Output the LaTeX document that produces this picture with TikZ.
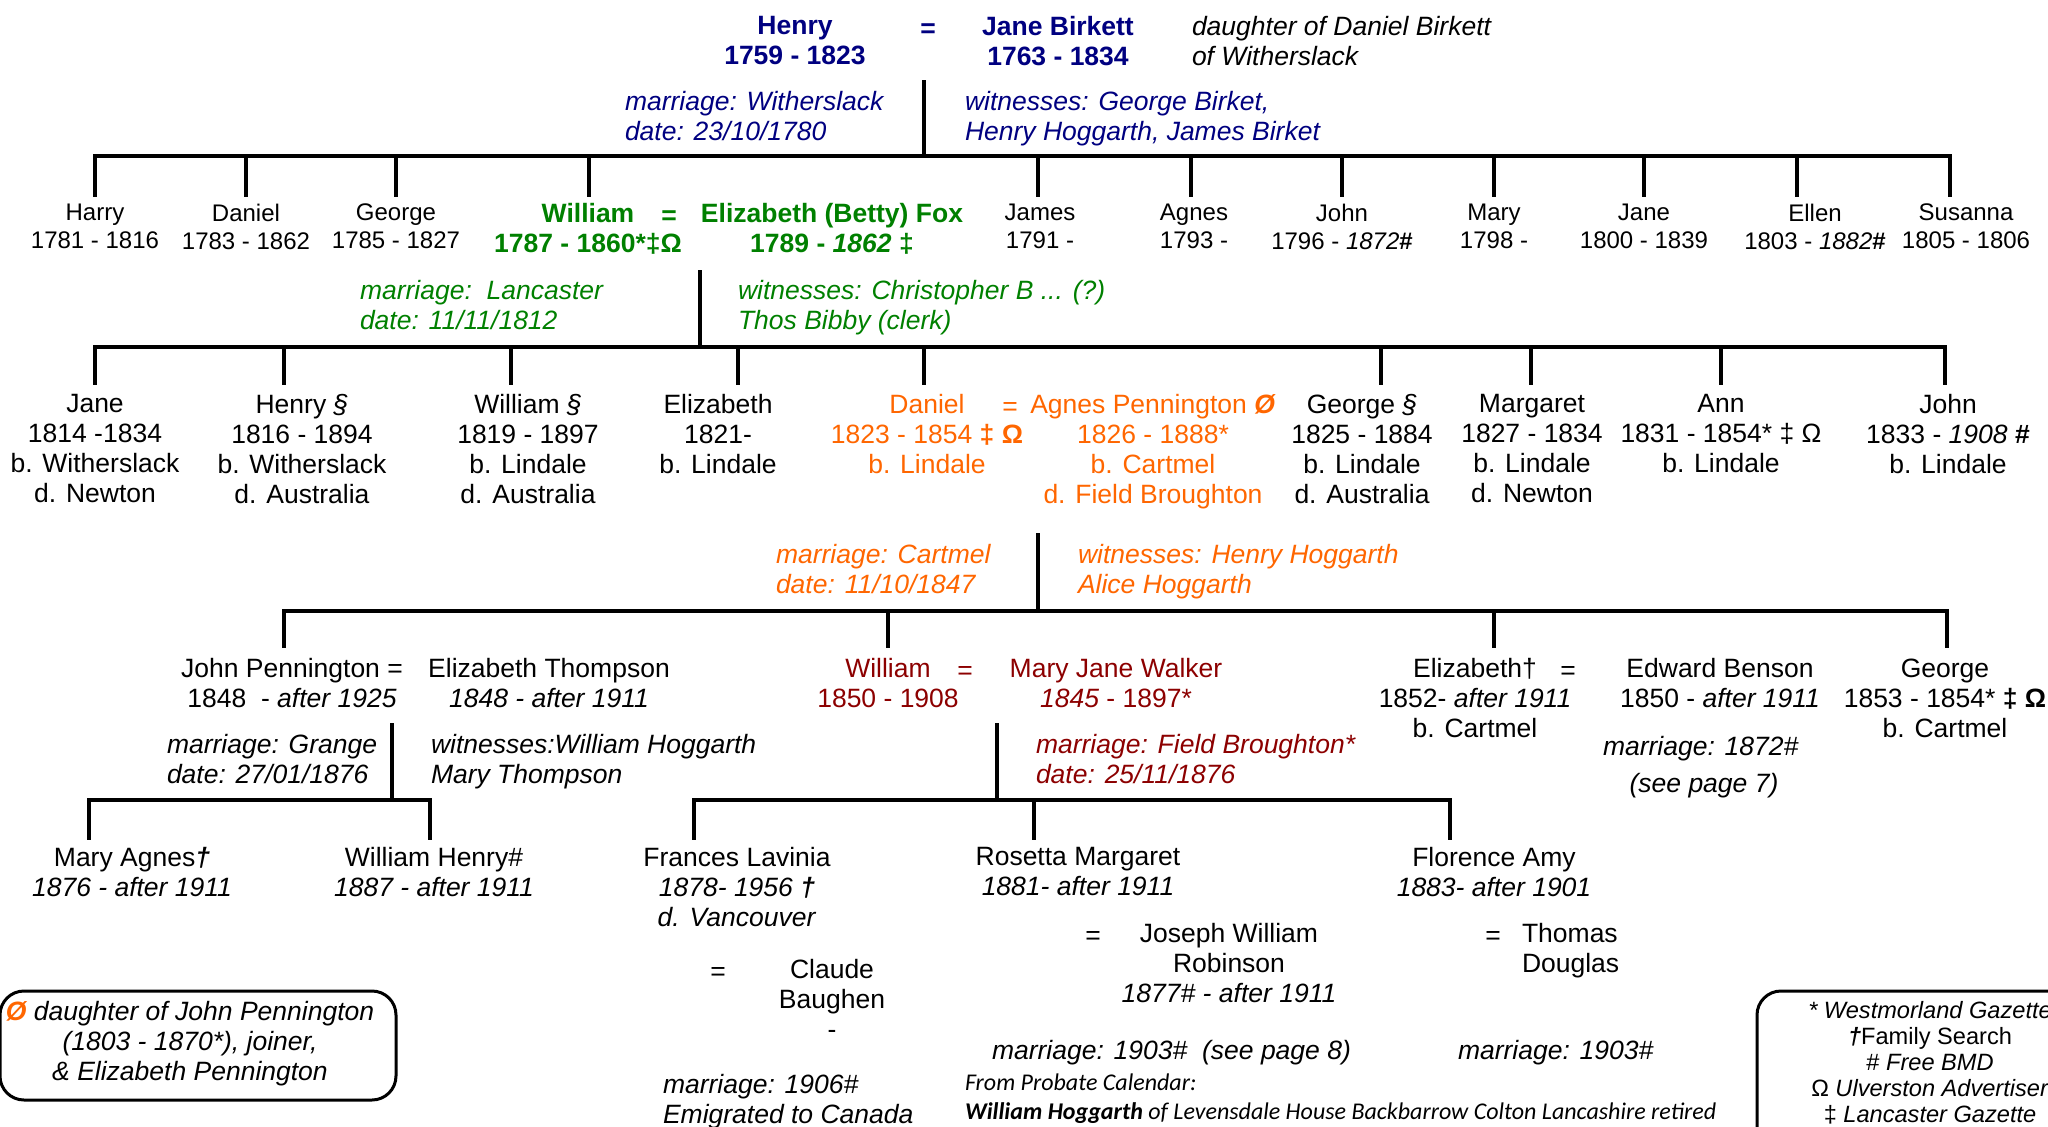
\documentclass[tikz,border=0pt]{standalone}
\usepackage{fontspec}
\setmainfont{Liberation Sans}
\newfontfamily\carlito{Carlito}
\definecolor{navyc}{RGB}{0,0,128}
\definecolor{greenc}{RGB}{0,128,0}
\definecolor{orangec}{RGB}{255,102,0}
\definecolor{redc}{RGB}{140,0,0}
\begin{document}
\begin{tikzpicture}[x=1pt,y=-1pt,
  tree/.style={line width=4pt, line cap=rect},
  boxline/.style={line width=3pt, rounded corners=24pt},
  f26/.style={font=\fontsize{26.5}{30}\selectfont},
  f26b/.style={font=\fontsize{26.5}{30}\selectfont\bfseries},
  f26i/.style={font=\fontsize{26.5}{30}\selectfont\itshape},
  f24/.style={font=\fontsize{24}{28}\selectfont},
  f23/.style={font=\fontsize{23.6}{26}\selectfont},
  probf/.style={font=\carlito\itshape\fontsize{24}{29}\selectfont},
  txt/.style={inner sep=0pt, outer sep=0pt, anchor=north, align=center, f26, yshift=-3pt, execute at begin node=\strut},
  ltxt/.style={txt, anchor=north west, align=left}
]
\useasboundingbox (0,0) rectangle (2048,1127);

% ---------- generation 0 ----------
\node[txt, f26b, text=navyc] (henry) at (795,13.5) {Henry\\1759 - 1823};
\node[txt, f26b, text=navyc] (eq0) at (928,13.5) {=};
\node[txt, f26b, text=navyc] (janeb) at (1058,13.5) {Jane Birkett\\1763 - 1834};
\node[ltxt, f26i] (danb) at (1192,13.5) {daughter of Daniel Birkett\\of Witherslack};
\node[ltxt, f26i, text=navyc] (mar0) at (625,88.5) {marriage: Witherslack\\date: 23/10/1780};
\node[ltxt, f26i, text=navyc] (wit0) at (965,88.5) {witnesses: George Birket,\\Henry Hoggarth, James Birket};
\coordinate (m0a) at (924,82); \coordinate (m0b) at (924,156);
\draw[tree] (m0a) -- (m0b);
\coordinate (bus0l) at (95,156); \coordinate (bus0r) at (1950,156);
\draw[tree] (bus0l) -- (bus0r);
\foreach \x in {95,246,396,589,1038,1191,1342,1494,1644,1797,1950}
  \draw[tree] (\x,156) -- (\x,195);

% ---------- generation 1 ----------
\node[txt, f24] (harry) at (95,201) {Harry\\1781 - 1816};
\node[txt, f24] (daniel1) at (246,201) {Daniel\\1783 - 1862};
\node[txt, f24] (george1) at (396,201) {George\\1785 - 1827};
\node[txt, f26b, text=greenc] (william1) at (588,200.5) {William\\1787 - 1860*‡Ω};
\node[txt, f26b, text=greenc] (eq1) at (669,200.5) {=};
\node[txt, f26b, text=greenc] (betty) at (832,200.5) {Elizabeth (Betty) Fox\\1789 - \textit{1862} ‡};
\node[txt, f24] (james) at (1040,201) {James\\1791 -};
\node[txt, f24] (agnes1) at (1194,201) {Agnes\\1793 -};
\node[txt, f24] (john1) at (1342,201) {John\\1796 - \textit{1872}\textbf{\#}};
\node[txt, f24] (mary1) at (1494,201) {Mary\\1798 -};
\node[txt, f24] (jane1) at (1644,201) {Jane\\1800 - 1839};
\node[txt, f24] (ellen) at (1815,201) {Ellen\\1803 - \textit{1882}\textbf{\#}};
\node[txt, f24] (susanna) at (1966,201) {Susanna\\1805 - 1806};

\node[ltxt, f26i, text=greenc] (mar1) at (360,277.5) {marriage:\ \ Lancaster\\date: 11/11/1812};
\node[ltxt, f26i, text=greenc] (wit1) at (738,277.5) {witnesses: Christopher B ... (?)\\Thos Bibby (clerk)};
\coordinate (m1a) at (700,272); \coordinate (m1b) at (700,347);
\draw[tree] (m1a) -- (m1b);
\coordinate (bus1l) at (95,347); \coordinate (bus1r) at (1945,347);
\draw[tree] (bus1l) -- (bus1r);
\foreach \x in {95,284,511,738,924,1381,1531,1721,1945}
  \draw[tree] (\x,347) -- (\x,383);

% ---------- generation 2 ----------
\node[txt] (jane2) at (95,391.5) {Jane\\1814 -1834\\b. Witherslack\\d. Newton};
\node[txt] (henry2) at (302,391.5) {Henry \textit{§}\\1816 - 1894\\b. Witherslack\\d. Australia};
\node[txt] (william2) at (528,391.5) {William \textit{§}\\1819 - 1897\\b. Lindale\\d. Australia};
\node[txt] (eliz2) at (718,391.5) {Elizabeth\\1821-\\b. Lindale};
\node[txt, text=orangec] (daniel2) at (927,391.5) {Daniel\\1823 - 1854 \textbf{‡ Ω}\\b. Lindale};
\node[txt, text=orangec] (eq2) at (1010,391.5) {=};
\node[txt, text=orangec] (agnesp) at (1153,391.5) {Agnes Pennington \textbf{\textit{Ø}}\\1826 - 1888*\\b. Cartmel\\d. Field Broughton};
\node[txt] (george2) at (1362,391.5) {George \textit{§}\\1825 - 1884\\b. Lindale\\d. Australia};
\node[txt] (margaret) at (1532,391.5) {Margaret\\1827 - 1834\\b. Lindale\\d. Newton};
\node[txt] (ann) at (1721,391.5) {Ann\\1831 - 1854* ‡ Ω\\b. Lindale};
\node[txt] (john2) at (1948,391.5) {John\\1833 - \textit{1908} \textbf{\#}\\b. Lindale};

\node[ltxt, f26i, text=orangec] (mar2) at (776,541.5) {marriage: Cartmel\\date: 11/10/1847};
\node[ltxt, f26i, text=orangec] (wit2) at (1078,541.5) {witnesses: Henry Hoggarth\\Alice Hoggarth};
\coordinate (m2a) at (1038,535); \coordinate (m2b) at (1038,611);
\draw[tree] (m2a) -- (m2b);
\coordinate (bus2l) at (284,611); \coordinate (bus2r) at (1947,611);
\draw[tree] (bus2l) -- (bus2r);
\foreach \x in {284,888,1494,1947}
  \draw[tree] (\x,611) -- (\x,646);

% ---------- generation 3 ----------
\node[txt] (jp) at (292,655.5) {John Pennington =\\1848\ \ - \textit{after 1925}};
\node[txt] (et) at (549,655.5) {Elizabeth Thompson\\\textit{1848 - after 1911}};
\node[txt, text=redc] (william3) at (888,655.5) {William\\1850 - 1908};
\node[txt, text=redc] (eq3) at (965,655.5) {=};
\node[txt, text=redc] (mjw) at (1116,655.5) {Mary Jane Walker\\\textit{1845} - 1897*};
\node[txt] (eliz3) at (1475,655.5) {Elizabeth†\\1852- \textit{after 1911}\\b. Cartmel};
\node[txt] (eq4) at (1568,655.5) {=};
\node[txt] (eb) at (1720,655.5) {Edward Benson\\1850 - \textit{after 1911}};
\node[txt] (george3) at (1945,655.5) {George\\1853 - 1854* \textbf{‡ Ω}\\b. Cartmel};
\node[ltxt, f26i] (mar6a) at (1603,731.5) {marriage: 1872\#};
\node[txt, f26i] (mar6b) at (1704,768.5) {(see page 7)};

\node[ltxt, f26i] (mar3) at (167,731.5) {marriage: Grange\\date: 27/01/1876};
\node[ltxt, f26i] (wit3) at (431,731.5) {witnesses:William Hoggarth\\Mary Thompson};
\coordinate (m3a) at (392,725); \coordinate (m3b) at (392,800);
\draw[tree] (m3a) -- (m3b);
\coordinate (bus3l) at (89,800); \coordinate (bus3r) at (430,800);
\draw[tree] (bus3l) -- (bus3r);
\foreach \x in {89,430}
  \draw[tree] (\x,800) -- (\x,838);

\node[ltxt, f26i, text=redc] (mar4) at (1036,731.5) {marriage: Field Broughton*\\date: 25/11/1876};
\coordinate (m4a) at (997,725); \coordinate (m4b) at (997,800);
\draw[tree] (m4a) -- (m4b);
\coordinate (bus4l) at (694,800); \coordinate (bus4r) at (1450,800);
\draw[tree] (bus4l) -- (bus4r);
\foreach \x in {694,1034,1450}
  \draw[tree] (\x,800) -- (\x,838);

% ---------- generation 4 ----------
\node[txt] (maryagnes) at (132,844.5) {Mary Agnes\textbf{\textit{†}}\\\textit{1876 - after 1911}};
\node[txt] (willhenry) at (434,844.5) {William Henry\#\\\textit{1887 - after 1911}};
\node[txt] (frances) at (737,844.5) {Frances Lavinia\\\textit{1878- 1956 }\textbf{\textit{†}}\\\textit{d. Vancouver}};
\node[txt] (eq5) at (718,956.5) {=};
\node[txt] (claude) at (832,956.5) {Claude\\Baughen\\-};
\node[ltxt, f26i] (mar5) at (663,1071.5) {marriage: 1906\#\\Emigrated to Canada};

\node[txt] (rosetta) at (1078,844.5) {Rosetta Margaret\\\textit{1881- after 1911}};
\node[txt] (eq6) at (1093,920.5) {=};
\node[txt] (joseph) at (1229,920.5) {Joseph William\\Robinson\\\textit{1877\# - after 1911}};
\node[ltxt, f26i] (mar7) at (992,1035.5) {marriage: 1903\#\ \ (see page 8)};
\node[ltxt, probf] (probate) at (965,1070.4) {From Probate Calendar:\\\textbf{William Hoggarth} of Levensdale House Backbarrow Colton Lancashire retired};

\node[txt] (florence) at (1494,844.5) {Florence Amy\\\textit{1883- after 1901}};
\node[txt] (eq7) at (1493,920.5) {=};
\node[ltxt] (thomas) at (1522,920.5) {Thomas\\Douglas};
\node[ltxt, f26i] (mar8) at (1458,1035.5) {marriage: 1903\#};

% ---------- notes ----------
\draw[boxline] (0,991) rectangle (396,1100);
\node[txt, f26i] (note1) at (190,998.5) {\textcolor{orangec}{\textbf{Ø}} daughter of John Pennington\\(1803 - 1870*), joiner,\\\& Elizabeth Pennington};

\draw[boxline] (1757,991) rectangle (2130,1180);
\node[txt, f23] (note2) at (1930,998.3) {\textit{* Westmorland Gazette}\\\textbf{\textit{†}}Family Search\\\# \textit{Free BMD}\\Ω \textit{Ulverston Advertiser}\\‡ \textit{Lancaster Gazette}};
\end{tikzpicture}
\end{document}
